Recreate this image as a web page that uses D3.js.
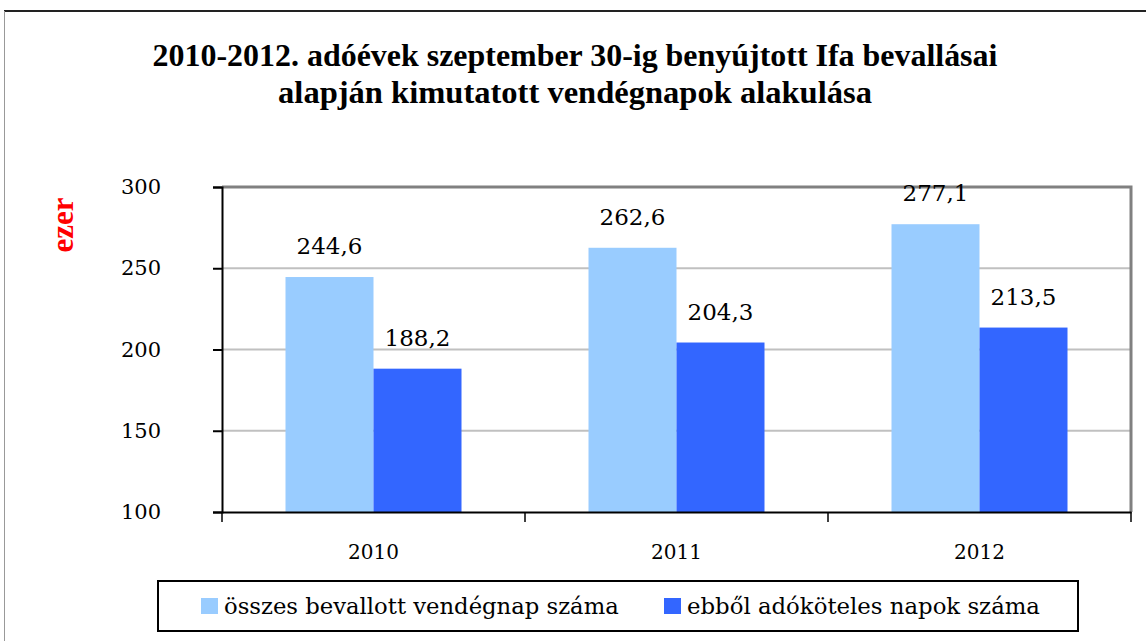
<!DOCTYPE html>
<html lang="hu">
<head>
  <meta charset="UTF-8">
  <title>Vendégnapok</title>
  <script src="https://d3js.org/d3.v7.min.js"></script>
  <style>
    body { margin: 0; background: #fff; }
    svg text { font-family: "DejaVu Serif", serif !important; }
    svg text.bold { font-family: "Liberation Serif", "DejaVu Serif", serif !important; }
  </style>
</head>
<body>
<div class="canvas"></div>
<script>
  // adatok
  const years = ['2010', '2011', '2012']
  const osszes = [244.6, 262.6, 277.1]
  const adokoteles = [188.2, 204.3, 213.5]
  const seriesNames = ['összes bevallott vendégnap száma', 'ebből adóköteles napok száma']
  const seriesColors = ['#99ccff', '#3366ff']
  const yTicks = [100, 150, 200, 250, 300]
  const titleLines = ['2010-2012. adóévek szeptember 30-ig benyújtott Ifa bevallásai',
    'alapján kimutatott vendégnapok alakulása']

  const W = 1146, H = 641
  const svg = d3.select('.canvas')
    .append('svg')
    .attr('width', W)
    .attr('height', H)

  // a szöveget a megadott szélességre méretezi
  function fit(sel, width) {
    sel.each(function () {
      const fs = parseFloat(d3.select(this).attr('font-size'))
      const w = this.getComputedTextLength()
      if (w > 0) d3.select(this).attr('font-size', fs * width / w)
    })
  }

  // keret (csak felső és bal oldal látszik)
  svg.append('line').attr('x1', 4).attr('x2', W).attr('y1', 11).attr('y2', 11)
    .attr('stroke', '#222').attr('stroke-width', 2)
  svg.append('line').attr('x1', 4.5).attr('x2', 4.5).attr('y1', 11).attr('y2', H)
    .attr('stroke', '#999').attr('stroke-width', 1)

  // cím
  const titleW = [845, 594]
  svg.append('g').selectAll('text')
    .data(titleLines)
    .enter()
    .append('text')
    .attr('class', 'bold')
    .attr('x', 575)
    .attr('y', (d, i) => 66 + i * 37)
    .attr('text-anchor', 'middle')
    .attr('font-size', 27)
    .attr('font-weight', 'bold')
    .attr('fill', '#000')
    .text(d => d)
    .each(function (d, i) { fit(d3.select(this), titleW[i]) })

  const plot = { left: 222, right: 1131, top: 187, bottom: 512 }

  const x = d3.scaleBand()
    .domain(years)
    .range([plot.left, plot.right])
  const y = d3.scaleLinear()
    .domain([100, 300])
    .range([plot.bottom, plot.top])

  const barW = 88
  const xs = d3.scaleBand()
    .domain([0, 1])
    .range([0, barW * 2])

  // rácsvonalak
  svg.append('g').selectAll('line')
    .data(yTicks.slice(1, -1))
    .enter()
    .append('line')
    .attr('x1', plot.left).attr('x2', plot.right)
    .attr('y1', d => y(d)).attr('y2', d => y(d))
    .attr('stroke', '#c0c0c0').attr('stroke-width', 2)

  // felső és jobb szegély
  svg.append('path')
    .attr('d', `M${plot.left},${plot.top}H${plot.right}V${plot.bottom}`)
    .attr('fill', 'none').attr('stroke', '#808080').attr('stroke-width', 3)

  // oszlopok
  const rows = years.map((yr, i) => ({ year: yr, values: [osszes[i], adokoteles[i]] }))
  const groups = svg.append('g').selectAll('g')
    .data(rows)
    .enter()
    .append('g')
    .attr('transform', d => `translate(${x(d.year) + (x.bandwidth() - barW * 2) / 2},0)`)

  groups.selectAll('rect')
    .data(d => d.values)
    .enter()
    .append('rect')
    .attr('x', (d, i) => xs(i))
    .attr('width', xs.bandwidth())
    .attr('y', d => y(d))
    .attr('height', d => y(100) - y(d))
    .attr('fill', (d, i) => seriesColors[i])

  groups.selectAll('text')
    .data(d => d.values)
    .enter()
    .append('text')
    .attr('x', (d, i) => xs(i) + xs.bandwidth() / 2)
    .attr('y', d => y(d) - 23)
    .attr('text-anchor', 'middle')
    .attr('font-size', 23)
    .attr('fill', '#000')
    .text(d => d3.format('.1f')(d).replace('.', ','))

  // y tengely
  const yAxis = d3.axisLeft(y)
    .tickValues(yTicks)
    .tickSize(9)
    .tickPadding(52)
    .tickFormat(d3.format('d'))
  const gy = svg.append('g')
    .attr('transform', `translate(${plot.left},0)`)
    .call(yAxis)
  gy.select('.domain').attr('stroke', '#000').attr('stroke-width', 2)
  gy.selectAll('.tick line').attr('stroke', '#000').attr('stroke-width', 2)
  gy.selectAll('.tick text')
    .attr('font-size', 21)
    .attr('fill', '#000')

  // x tengely
  const xAxis = d3.axisBottom(x)
    .tickSize(0)
    .tickPadding(0)
  const gx = svg.append('g')
    .attr('transform', `translate(0,${plot.bottom})`)
    .call(xAxis)
  gx.select('.domain').attr('stroke', '#000').attr('stroke-width', 2)
  gx.selectAll('.tick text')
    .attr('y', 47)
    .attr('dy', 0)
    .attr('font-size', 20)
    .attr('fill', '#000')
  // osztásjelek a kategóriák határain
  gx.selectAll('.sep')
    .data(years.map(d => x(d)).concat([plot.right]))
    .enter()
    .append('line')
    .attr('x1', d => d).attr('x2', d => d)
    .attr('y1', 0).attr('y2', 10)
    .attr('stroke', '#000').attr('stroke-width', 1.5)

  // tengelycím
  svg.append('text')
    .attr('class', 'bold')
    .attr('transform', 'translate(73,225) rotate(-90)')
    .attr('text-anchor', 'middle')
    .attr('font-size', 31)
    .attr('font-weight', 'bold')
    .attr('fill', '#ff0000')
    .text('ezer')

  // jelmagyarázat
  const leg = svg.append('g')
  leg.append('rect')
    .attr('x', 158).attr('y', 581)
    .attr('width', 920).attr('height', 50)
    .attr('fill', '#fff').attr('stroke', '#000').attr('stroke-width', 2)
  const legX = [201, 664]
  const legW = [395, 353]
  const items = leg.selectAll('g.item')
    .data(seriesNames)
    .enter()
    .append('g')
    .attr('class', 'item')
    .attr('transform', (d, i) => `translate(${legX[i]},0)`)
  items.append('rect')
    .attr('x', 0).attr('y', 598)
    .attr('width', 17).attr('height', 16)
    .attr('fill', (d, i) => seriesColors[i])
  items.append('text')
    .attr('x', 23).attr('y', 614)
    .attr('font-size', 25)
    .attr('fill', '#000')
    .text(d => d)
    .each(function (d, i) { fit(d3.select(this), legW[i]) })
</script>
</body>
</html>
